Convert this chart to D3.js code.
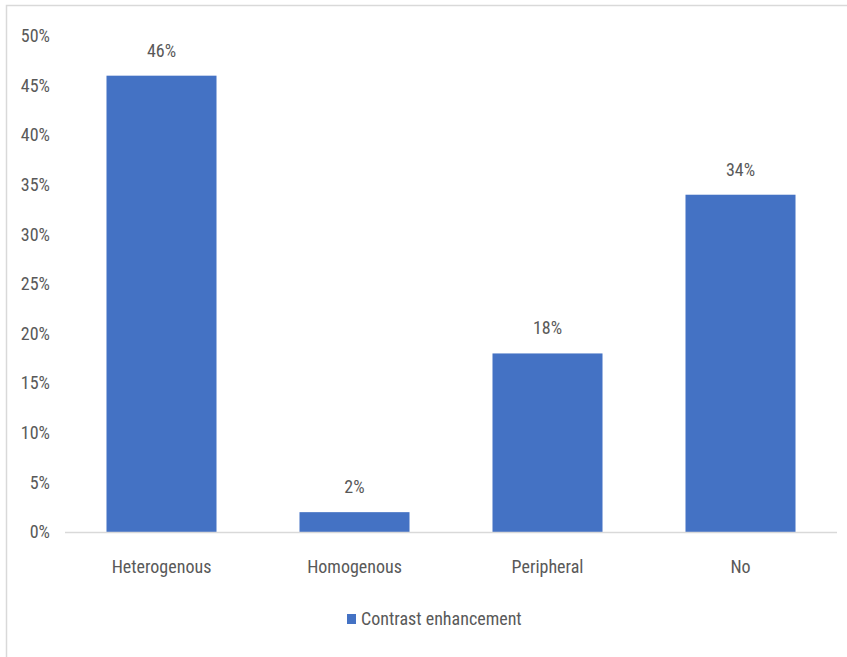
<!DOCTYPE html>
<html>
<head>
<meta charset="utf-8">
<script src="https://cdn.jsdelivr.net/npm/d3@7"></script>
<style>
  body { margin: 0; background: #fff; }
  svg text { font-family: "Liberation Sans Narrow", "Roboto Condensed", Roboto, sans-serif; fill: #595959; }
</style>
</head>
<body>
<svg></svg>
<script>
const width = 847;
const height = 657;

const categories = ["Heterogenous", "Homogenous", "Peripheral", "No"];
const values = [46, 2, 18, 34];
const yTicks = [0, 5, 10, 15, 20, 25, 30, 35, 40, 45, 50];
const seriesName = "Contrast enhancement";

const svg = d3.select("svg")
    .attr("width", width)
    .attr("height", height);

// outer chart border (right/bottom run off the picture)
svg.append("rect")
    .attr("x", 6.5)
    .attr("y", 5.5)
    .attr("width", 860)
    .attr("height", 680)
    .attr("fill", "none")
    .attr("stroke", "#d9d9d9")
    .attr("stroke-width", 1.5);

const xScale = d3.scaleBand()
    .domain(categories)
    .range([65, 837])
    .paddingInner(0.43)
    .paddingOuter(0.215);

const yScale = d3.scaleLinear()
    .domain([0, 50])
    .range([532, 36]);

const yAxis = d3.axisLeft(yScale)
    .tickValues(yTicks)
    .tickFormat(d => d + "%")
    .tickSize(0)
    .tickPadding(0);

svg.append("g")
    .attr("transform", "translate(50, 0)")
    .call(yAxis)
    .call(g => g.select(".domain").remove())
    .call(g => g.selectAll("text").attr("font-size", 18).attr("fill", "#595959"));

svg.selectAll(".bar")
    .data(values)
    .enter()
    .append("rect")
    .attr("class", "bar")
    .attr("x", (d, i) => xScale(categories[i]))
    .attr("y", d => yScale(d))
    .attr("width", xScale.bandwidth())
    .attr("height", d => yScale(0) - yScale(d))
    .attr("fill", "#4472c4");

// baseline
svg.append("line")
    .attr("x1", 65)
    .attr("x2", 837)
    .attr("y1", yScale(0) + 0.5)
    .attr("y2", yScale(0) + 0.5)
    .attr("stroke", "#d9d9d9")
    .attr("stroke-width", 1.5);

svg.selectAll(".value-label")
    .data(values)
    .enter()
    .append("text")
    .attr("class", "value-label")
    .attr("x", (d, i) => xScale(categories[i]) + xScale.bandwidth() / 2)
    .attr("y", d => yScale(d) - 19)
    .attr("text-anchor", "middle")
    .attr("font-size", 18)
    .text(d => d + "%");

const xAxis = d3.axisBottom(xScale)
    .tickSize(0)
    .tickPadding(0);

svg.append("g")
    .attr("transform", `translate(0, ${yScale(0)})`)
    .call(xAxis)
    .call(g => g.select(".domain").remove())
    .call(g => g.selectAll("text")
        .attr("font-size", 18)
        .attr("fill", "#595959")
        .attr("dy", null)
        .attr("y", 41));

const legend = svg.append("g")
    .attr("transform", "translate(347, 613)");

legend.append("rect")
    .attr("width", 9)
    .attr("height", 10)
    .attr("y", 1)
    .attr("fill", "#4472c4");

legend.append("text")
    .attr("x", 14)
    .attr("y", 12)
    .attr("font-size", 18)
    .text(seriesName);
</script>
</body>
</html>
